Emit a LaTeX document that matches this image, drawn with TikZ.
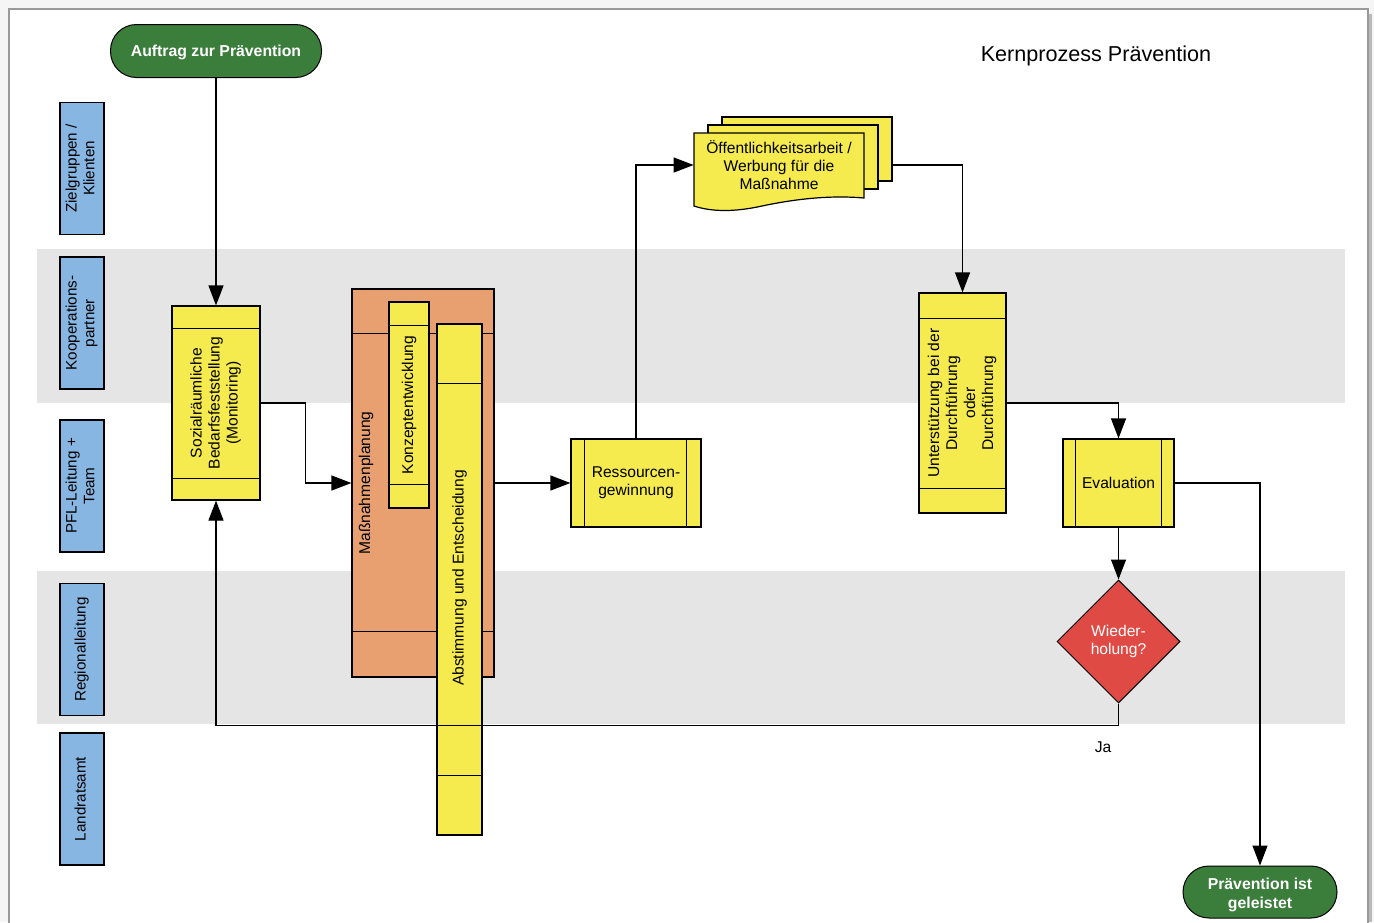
\documentclass[tikz,border=0pt]{standalone}
\usepackage{fontspec}
\setmainfont{Liberation Sans}
\usetikzlibrary{arrows.meta,shapes.geometric,calc}
\definecolor{laneblue}{HTML}{88B6E3}
\definecolor{bandgray}{HTML}{E5E5E5}
\definecolor{stepyellow}{HTML}{F6EB4E}
\definecolor{blockorange}{HTML}{E9A070}
\definecolor{termgreen}{HTML}{3B7D3B}
\definecolor{decred}{HTML}{E04A45}
\definecolor{pagebg}{HTML}{F5F5F5}
\tikzset{
  x=0.5pt, y=-0.5pt,
  txt/.style={font=\fontsize{7.8}{9}\selectfont},
  lanelabel/.style={draw=black, line width=0.6pt, fill=laneblue, inner sep=0pt,
    minimum width=22pt, minimum height=66pt, font=\fontsize{7.6}{8.8}\selectfont},
  stepbox/.style={draw=black, line width=0.6pt, fill=stepyellow, inner sep=0pt,
    font=\fontsize{7.8}{9}\selectfont},
  terminal/.style={draw=black, line width=0.5pt, fill=termgreen, rounded corners=13pt,
    inner sep=0pt},
  termtext/.style={text=white, font=\bfseries\fontsize{7.9}{9.2}\selectfont, align=center, inner sep=0pt},
  flow/.style={line width=0.6pt, -{Triangle[length=10pt,width=7.5pt]}},
  plain/.style={line width=0.6pt},
}
\newcommand{\vtext}[1]{\rotatebox{90}{\begin{tabular}{@{}c@{}}#1\end{tabular}}}
\begin{document}
\begin{tikzpicture}
\useasboundingbox (0,0) rectangle (1374,922);
% sheet
\fill[pagebg] (0,0) rectangle (1374,922);
\fill[gray!55] (1368,14) rectangle (1372,922);
\fill[white] (9,9) rectangle (1368,930);
\draw[gray!80, line width=0.6pt] (9,930) -- (9,9) -- (1368,9) -- (1368,930);

% swimlane bands
\fill[bandgray] (37,249) rectangle (1345,403);
\fill[bandgray] (37,571) rectangle (1345,724);

% lane labels
\node[lanelabel] (l1) at (82,168.5) {\vtext{Zielgruppen /\\Klienten}};
\node[lanelabel] (l2) at (82,323) {\vtext{Kooperations-\\partner}};
\node[lanelabel] (l3) at (82,486) {\vtext{PFL-Leitung +\\Team}};
\node[lanelabel] (l4) at (82,649.5) {\vtext{Regionalleitung}};
\node[lanelabel] (l5) at (82,799) {\vtext{Landratsamt}};

% title
\node[font=\fontsize{10.8}{12}\selectfont] (title) at (1096,56) {Kernprozess Prävention};

% start terminal
\node[terminal, minimum width=105.5pt, minimum height=26.5pt] (start) at (216,51) {};
\node[termtext] (starttext) at (216,52) {Auftrag zur Prävention};

% needs assessment
\node[stepbox, minimum width=44pt, minimum height=97pt] (soz) at (216,403)
  {\vtext{Sozialräumliche\\Bedarfsfeststellung\\(Monitoring)}};
\draw[plain] ($(soz.north west)+(0,23)$) -- ($(soz.north east)+(0,23)$);
\draw[plain] ($(soz.south west)+(0,-22)$) -- ($(soz.south east)+(0,-22)$);

% planning block
\node[draw=black, line width=0.6pt, fill=blockorange, inner sep=0pt,
  minimum width=71pt, minimum height=194pt] (mass) at (423,483) {};
\draw[plain] ($(mass.north west)+(0,45)$) -- ($(mass.north east)+(0,45)$);
\draw[plain] ($(mass.south west)+(0,-46)$) -- ($(mass.south east)+(0,-46)$);
\node[txt] (masstext) at (366,483) {\rotatebox{90}{Maßnahmenplanung}};

\node[stepbox, minimum width=20pt, minimum height=103pt] (konz) at (409,405)
  {\rotatebox{90}{Konzeptentwicklung}};
\draw[plain] ($(konz.north west)+(0,24)$) -- ($(konz.north east)+(0,24)$);
\draw[plain] ($(konz.south west)+(0,-24)$) -- ($(konz.south east)+(0,-24)$);

\node[stepbox, minimum width=22.5pt, minimum height=255.5pt] (abst) at (459.5,579.5) {};
\node[txt] (absttext) at (459.5,578) {\rotatebox{90}{Abstimmung und Entscheidung}};
\draw[plain] ($(abst.north west)+(0,60)$) -- ($(abst.north east)+(0,60)$);
\draw[plain] ($(abst.south west)+(0,-110)$) -- ($(abst.south east)+(0,-110)$);
\draw[plain] ($(abst.south west)+(0,-60)$) -- ($(abst.south east)+(0,-60)$);

% resources
\node[stepbox, minimum width=65pt, minimum height=44pt, align=center] (res) at (636,483)
  {Ressourcen-\\gewinnung};
\draw[plain] ($(res.north west)+(14,0)$) -- ($(res.south west)+(14,0)$);
\draw[plain] ($(res.north east)+(-15,0)$) -- ($(res.south east)+(-15,0)$);

% stacked documents
\node[draw=black, line width=0.6pt, fill=stepyellow, inner sep=0pt,
  minimum width=85pt, minimum height=32pt] (docback) at (807,149) {};
\node[draw=black, line width=0.6pt, fill=stepyellow, inner sep=0pt,
  minimum width=85pt, minimum height=32pt] (docmid) at (793,157) {};
\filldraw[draw=black, line width=0.6pt, fill=stepyellow]
  (694,133) -- (864,133) -- (864,198)
  .. controls (830,195) and (795,199) .. (762,206)
  .. controls (735,212) and (712,212) .. (694,206) -- cycle;
\node[txt, align=center, inner sep=0pt, minimum width=85pt, minimum height=32pt] (doc) at (779,165)
  {Öffentlichkeitsarbeit /\\Werbung für die\\Maßnahme};

% support / implementation
\node[stepbox, minimum width=43.5pt, minimum height=110pt] (unt) at (962.5,403)
  {\vtext{Unterstützung bei der\\Durchführung\\oder\\Durchführung}};
\draw[plain] ($(unt.north west)+(0,26)$) -- ($(unt.north east)+(0,26)$);
\draw[plain] ($(unt.south west)+(0,-25)$) -- ($(unt.south east)+(0,-25)$);

% evaluation
\node[stepbox, minimum width=55.5pt, minimum height=44pt] (eval) at (1118.5,483) {Evaluation};
\draw[plain] ($(eval.north west)+(13,0)$) -- ($(eval.south west)+(13,0)$);
\draw[plain] ($(eval.north east)+(-13,0)$) -- ($(eval.south east)+(-13,0)$);

% decision
\node[diamond, draw=black, line width=0.5pt, fill=decred, inner sep=0pt,
  minimum width=61.5pt, minimum height=61.5pt, text=white, align=center,
  font=\fontsize{7.8}{9}\selectfont] (dia) at (1118.5,641.5) {Wieder-\\holung?};

% end terminal
\node[terminal, minimum width=77pt, minimum height=26pt] (end) at (1260,892) {};
\node[termtext] (endtext) at (1260,895) {Prävention ist\\geleistet};

% connectors
\draw[flow] (start.south) -- (soz.north);
\draw[flow] (soz.east) -- ++(45,0) |- (mass.west);
\draw[flow] (mass.east) -- (res.west);
\draw[flow] (res.north) |- (doc.west);
\draw[flow] (docback.east |- doc.west) -| (unt.north);
\draw[flow] (unt.east) -| (eval.north);
\draw[flow] (eval.south) -- (dia.north);
\draw[flow] (dia.south) -- ++(0,22) -| (soz.south);
\draw[flow] (eval.east) -| (end.north);
\node[txt] (ja) at (1103,747) {Ja};
\end{tikzpicture}
\end{document}
